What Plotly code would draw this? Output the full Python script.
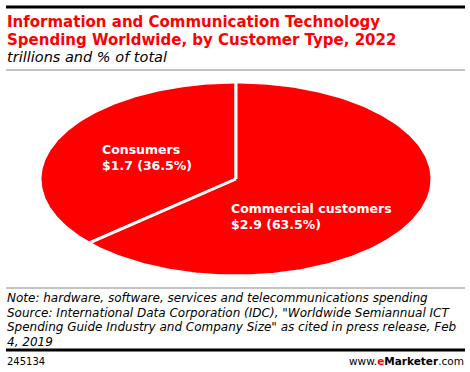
import numpy as np
import plotly.graph_objects as go

# ---- data ----
categories = ["Consumers", "Commercial customers"]
values = [1.7, 2.9]            # trillions
shares = [36.5, 63.5]          # % of total

title_lines = ["Information and Communication Technology",
               "Spending Worldwide, by Customer Type, 2022"]
subtitle = "trillions and % of total"
note_lines = [
    "Note: hardware, software, services and telecommunications spending",
    "Source: International Data Corporation (IDC), \"Worldwide Semiannual ICT",
    "Spending Guide Industry and Company Size\" as cited in press release, Feb",
    "4, 2019",
]
chart_id = "245134"

# ---- layout constants (pixel space) ----
W, H = 470, 372
cx, cy, rx, ry = 236, 179, 196, 97
RED = "#ff0000"
FONT = "DejaVu Sans"

fig = go.Figure()

# elliptical pie: consumers counter-clockwise from 12 o'clock, commercial clockwise
total = sum(shares)
directions = [1, -1]
label_pos = [(100, 157), (229, 216)]
for i, (cat, val, sh) in enumerate(zip(categories, values, shares)):
    sweep = 2 * np.pi * sh / total
    d = directions[i]
    t = np.linspace(0, sweep, 200) * d
    xs = cx - rx * np.sin(t)
    ys = cy - ry * np.cos(t)
    xs = np.concatenate([[cx], xs, [cx]])
    ys = np.concatenate([[cy], ys, [cy]])
    fig.add_trace(go.Scatter(x=xs, y=ys, mode="lines", fill="toself",
                             fillcolor=RED, line=dict(color="white", width=3),
                             hoverinfo="skip", showlegend=False))
    lx, ly = label_pos[i]
    for j, line in enumerate([cat, f"${val:.1f} ({sh:.1f}%)"]):
        fig.add_annotation(x=lx, y=ly - 8 + 16 * j, xref="x", yref="y",
                           xanchor="left", yanchor="middle", showarrow=False,
                           text=f"<b>{line}</b>",
                           font=dict(family=FONT, size=12.5, color="white"))

# title
for j, line in enumerate(title_lines):
    fig.add_annotation(x=5, y=22 + 18 * j, xref="x", yref="y", xanchor="left",
                       yanchor="middle", showarrow=False, text="<b>" + line + "</b>",
                       font=dict(family=FONT, size=15, color=RED))
fig.add_annotation(x=5, y=57, xref="x", yref="y", xanchor="left", yanchor="middle",
                   showarrow=False, text="<i>" + subtitle + "</i>",
                   font=dict(family=FONT, size=14.5, color="black"))
# notes
for j, line in enumerate(note_lines):
    fig.add_annotation(x=5, y=298 + 14.7 * j, xref="x", yref="y", xanchor="left",
                       yanchor="middle", showarrow=False, text="<i>" + line + "</i>",
                       font=dict(family=FONT, size=12, color="black"))
fig.add_annotation(x=5, y=361, xref="x", yref="y", xanchor="left", yanchor="middle",
                   showarrow=False, text=chart_id,
                   font=dict(family=FONT, size=10, color="black"))
fig.add_annotation(x=466, y=361, xref="x", yref="y", xanchor="right", yanchor="middle",
                   showarrow=False,
                   text="www.<b><span style='color:#ff0000'>e</span>Marketer</b>.com",
                   font=dict(family=FONT, size=10.5, color="black"))

# rules
shapes = [
    dict(type="line", x0=6, x1=465, y0=7, y1=7, line=dict(color="black", width=3)),
    dict(type="line", x0=6, x1=465, y0=70, y1=70, line=dict(color="#888888", width=1)),
    dict(type="line", x0=6, x1=465, y0=288, y1=288, line=dict(color="#888888", width=1)),
    dict(type="line", x0=6, x1=465, y0=350, y1=350, line=dict(color="black", width=3)),
]
for s in shapes:
    s.update(xref="x", yref="y", layer="above")

fig.update_layout(
    width=W, height=H, margin=dict(l=0, r=0, t=0, b=0),
    paper_bgcolor="white", plot_bgcolor="white", shapes=shapes,
    xaxis=dict(range=[0, W], visible=False, fixedrange=True),
    yaxis=dict(range=[H, 0], visible=False, fixedrange=True),
)
fig.write_html("out.html", config={"displayModeBar": False},
               post_script="document.body.style.margin='0';")
